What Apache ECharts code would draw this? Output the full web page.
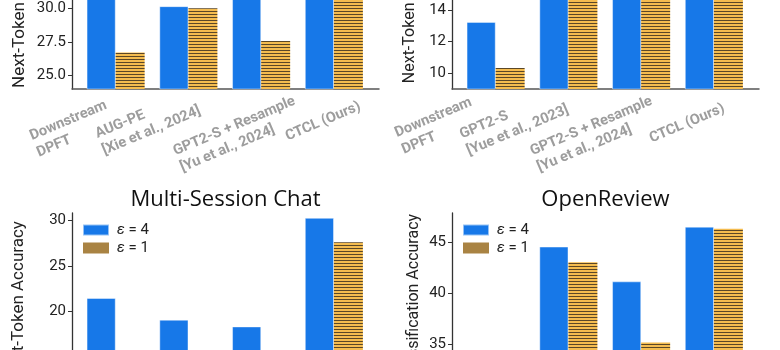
<!DOCTYPE html>
<html>
<head>
<meta charset="utf-8">
<script src="https://cdn.jsdelivr.net/npm/echarts@6/dist/echarts.min.js"></script>
<style>
html, body { margin: 0; padding: 0; background: #fff; }
#chart { width: 780px; height: 350px; }
</style>
</head>
<body>
<div id="chart"></div>
<script>
var seriesNames = ['ε = 4', 'ε = 1'];

// top left (next-token accuracy, values above the crop are estimates)
var pubmedCats = ['Downstream\nDPFT', 'AUG-PE\n[Xie et al., 2024]', 'GPT2-S + Resample\n[Yu et al., 2024]', 'CTCL (Ours)'];
var pubmedEps4 = [31.4, 30.13, 31.0, 31.8];
var pubmedEps1 = [26.7, 29.98, 27.55, 31.3];
var pubmedTicks = [25, 27.5, 30, 32.5, 35];

// top right
var arenaCats = ['Downstream\nDPFT', 'GPT2-S\n[Yue et al., 2023]', 'GPT2-S + Resample\n[Yu et al., 2024]', 'CTCL (Ours)'];
var arenaEps4 = [13.24, 15.6, 16.1, 16.9];
var arenaEps1 = [10.33, 15.1, 15.6, 16.4];
var arenaTicks = [10, 12, 14, 16, 18];

// bottom left
var chatCats = ['Downstream\nDPFT', 'GPT2-S\n[Yue et al., 2023]', 'GPT2-S + Resample\n[Yu et al., 2024]', 'CTCL (Ours)'];
var chatEps4 = [21.47, 19.09, 18.35, 30.26];
var chatEps1 = [14.6, 13.9, 13.4, 27.6];
var chatTicks = [15, 20, 25, 30];

// bottom right
var reviewCats = ['Downstream\nDPFT', 'GPT2-S\n[Yue et al., 2023]', 'GPT2-S + Resample\n[Yu et al., 2024]', 'CTCL (Ours)'];
var reviewEps4 = [33.6, 44.55, 41.14, 46.5];
var reviewEps1 = [32.8, 43.03, 35.16, 46.3];
var reviewTicks = [35, 40, 45];

var FONT = 'Roboto';
var BLUE = '#1778E8';
var AXIS = '#333';
var X_MIN = -0.6, X_MAX = 3.62, GRID_W = 307;
var xPx = GRID_W / (X_MAX - X_MIN);

function makeHatch(w, h, bg, line, y) {
    var c = document.createElement('canvas');
    c.width = w; c.height = h;
    var ctx = c.getContext('2d');
    ctx.fillStyle = bg;
    ctx.fillRect(0, 0, w, h);
    ctx.fillStyle = line;
    ctx.fillRect(0, y, w, 1);
    return c;
}
var barHatch = { image: makeHatch(4, 3, '#F4BC4F', '#5b4727', 2), repeat: 'repeat' };
var legendHatch = { image: makeHatch(4, 2, '#E8B456', '#6a5330', 1), repeat: 'repeat' };

// label nudges (px): shift along the axis and distance below it
var panels = [
    { cats: pubmedCats, eps4: pubmedEps4, eps1: pubmedEps1, ticks: pubmedTicks, dec: 1,
      yName: 'Next-Token Accuracy', nameGap: 44, nameSize: 17, min: 24, max: 36,
      grid: { left: 72, top: -73, width: GRID_W, height: 162 },
      labelDx: [-6, 8, 37, 26], labelMargin: [24, 13, 20, 17] },
    { cats: arenaCats, eps4: arenaEps4, eps1: arenaEps1, ticks: arenaTicks, dec: 0,
      yName: 'Next-Token Accuracy', nameGap: 34, nameSize: 16, min: 9, max: 19.25,
      grid: { left: 452, top: -73, width: GRID_W, height: 162 },
      labelDx: [-21, -4, 14, 10], labelMargin: [21, 12, 20, 19] },
    { cats: chatCats, eps4: chatEps4, eps1: chatEps1, ticks: chatTicks, dec: 0,
      yName: 'Next-Token Accuracy', nameGap: 45, nameSize: 17, min: 11.5, max: 30.8,
      grid: { left: 72, top: 213, width: GRID_W, height: 176 },
      title: 'Multi-Session Chat',
      labelDx: [-21, -4, 14, 10], labelMargin: [21, 12, 20, 19] },
    { cats: reviewCats, eps4: reviewEps4, eps1: reviewEps1, ticks: reviewTicks, dec: 0,
      yName: 'Classification Accuracy', nameGap: 30, nameSize: 16, min: 31.38, max: 47.85,
      grid: { left: 452, top: 213, width: GRID_W, height: 168 },
      title: 'OpenReview',
      labelDx: [-21, -4, 14, 10], labelMargin: [21, 12, 20, 19] }
];

var option = {
    animation: false,
    backgroundColor: '#fff',
    textStyle: { fontFamily: FONT },
    title: [], grid: [], xAxis: [], yAxis: [], series: [], legend: []
};

var labelRich = {
    a: { align: 'left', fontFamily: FONT, fontSize: 14.5, fontWeight: 'bold', color: '#9d9d9d', lineHeight: 18 }
};

panels.forEach(function(p, k) {
    var g = p.grid;
    g.outerBoundsMode = 'none';
    g.containLabel = false;
    option.grid.push(g);

    // main x axis: line only, carries the bars
    var mainX = option.xAxis.length;
    option.xAxis.push({
        type: 'value', gridIndex: k, position: 'bottom', min: X_MIN, max: X_MAX,
        axisLine: { show: true, onZero: false, lineStyle: { color: '#555', width: 1.5 } },
        axisTick: { show: false },
        splitLine: { show: false },
        axisLabel: { show: false }
    });

    // one label axis per category so rotated labels never hide each other
    p.cats.forEach(function(c, i) {
        var lines = c.split('\n').map(function(s) { return '{a|' + s + '}'; }).join('\n');
        option.xAxis.push({
            type: 'value', gridIndex: k, position: 'bottom', offset: 0, min: X_MIN, max: X_MAX,
            axisLine: { show: false, onZero: false },
            axisTick: { show: false },
            splitLine: { show: false },
            axisLabel: {
                customValues: [i + p.labelDx[i] / xPx], rotate: 23, margin: p.labelMargin[i],
                rich: labelRich, hideOverlap: false,
                formatter: function() { return lines; }
            }
        });
    });

    option.yAxis.push({
        type: 'value', gridIndex: k, position: 'left', min: p.min, max: p.max,
        name: p.yName, nameLocation: 'middle', nameGap: p.nameGap,
        nameTextStyle: { fontFamily: FONT, fontSize: p.nameSize, color: '#222' },
        axisLine: { show: true, onZero: false, lineStyle: { color: AXIS, width: 1.3 } },
        axisTick: { show: true, length: 4, customValues: p.ticks, lineStyle: { color: AXIS } },
        splitLine: { show: false },
        axisLabel: {
            customValues: p.ticks, margin: 6, fontFamily: FONT, fontSize: 15, color: '#222',
            formatter: function(v) { return v.toFixed(p.dec); }
        }
    });

    option.series.push({
        type: 'bar', name: seriesNames[0], xAxisIndex: mainX, yAxisIndex: k,
        barWidth: 29, barGap: '0%',
        itemStyle: { color: BLUE, borderColor: 'rgba(255,255,255,0.55)', borderWidth: 0.8 },
        data: p.eps4.map(function(v, i) { return [i, v]; })
    });
    option.series.push({
        type: 'bar', name: seriesNames[1], xAxisIndex: mainX, yAxisIndex: k,
        barWidth: 29, barGap: '0%',
        itemStyle: { color: barHatch },
        data: p.eps1.map(function(v, i) { return [i, v]; })
    });

    if (p.title) {
        option.title.push({
            text: p.title, left: p.grid.left + GRID_W / 2, top: 189, textAlign: 'center', padding: 0,
            textStyle: { fontFamily: 'Open Sans', fontSize: 22, fontWeight: 'normal', color: '#111' }
        });
        option.legend.push({
            orient: 'vertical', left: p.grid.left + 10, top: 221, padding: 0,
            itemWidth: 26, itemHeight: 11, itemGap: 0, icon: 'rect',
            data: [
                { name: seriesNames[0], itemStyle: { color: BLUE } },
                { name: seriesNames[1], itemStyle: { color: legendHatch } }
            ],
            formatter: function(name) {
                return '{e|ε}{t|' + name.slice(1) + '}';
            },
            textStyle: {
                lineHeight: 18,
                rich: {
                    e: { fontFamily: FONT, fontSize: 15, fontStyle: 'italic', color: '#222', padding: [0, 0, 0, 3] },
                    t: { fontFamily: FONT, fontSize: 15, color: '#222' }
                }
            }
        });
    }
});

var chart = echarts.init(document.getElementById('chart'));
chart.setOption(option);
</script>
</body>
</html>
